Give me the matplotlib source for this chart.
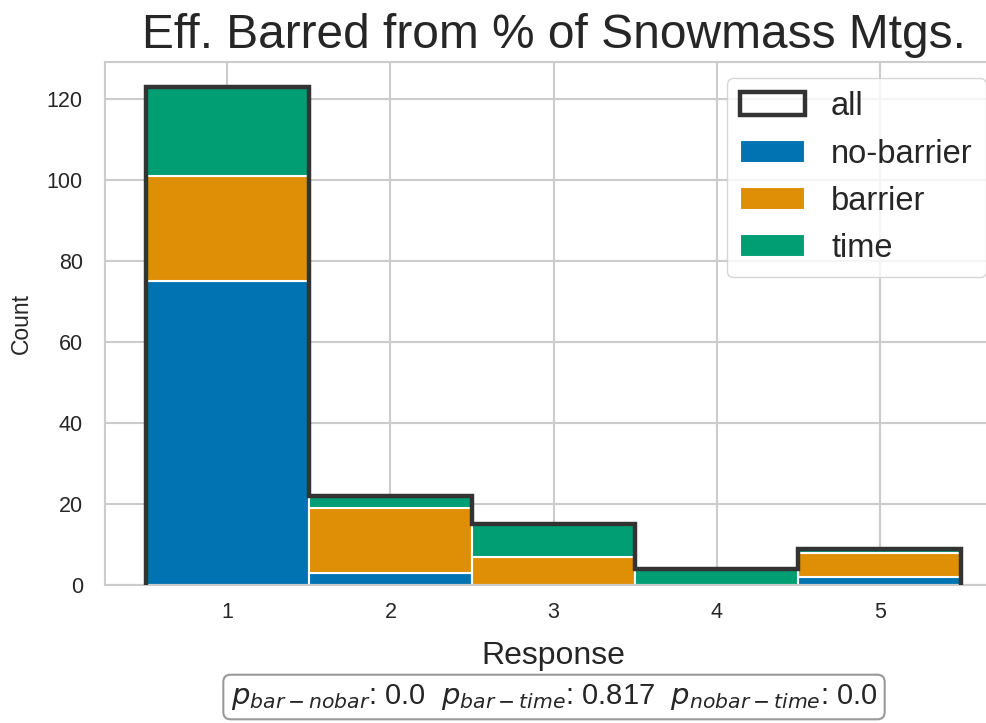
import matplotlib
matplotlib.use("Agg")
import matplotlib.pyplot as plt
from matplotlib.patches import Patch
import numpy as np
import seaborn as sns

# counts per response value
responses = [1, 2, 3, 4, 5]
no_barrier = [75, 3, 0, 0, 2]
barrier = [26, 16, 7, 0, 6]
time = [22, 3, 8, 4, 1]

series_names = ["no-barrier", "barrier", "time"]
p_text = r"$p_{bar-nobar}$: 0.0  $p_{bar-time}$: 0.817  $p_{nobar-time}$: 0.0"

sns.set_style("whitegrid")
plt.rcParams["font.family"] = ["Liberation Sans", "DejaVu Sans"]
plt.rcParams["axes.edgecolor"] = "#cccccc"
plt.rcParams["grid.color"] = "#cccccc"

colors = sns.color_palette("colorblind")[:3]
outline = "#333333"

fig = plt.figure(figsize=(9.87, 7.23), dpi=100)
ax = fig.add_axes([0.1064, 0.1909, 0.9088, 0.7234])

x = np.array(responses)
bottom = np.zeros(len(x))
bar_handles = []
for name, vals, c in zip(series_names, [no_barrier, barrier, time], colors):
    b = ax.bar(x, vals, width=1.0, bottom=bottom, color=c, edgecolor="white",
               linewidth=1.5, label=name, zorder=2)
    bar_handles.append(b)
    bottom += np.array(vals)

edges = np.concatenate([x - 0.5, [x[-1] + 0.5]])
ax.stairs(bottom, edges, baseline=0, fill=False, color=outline,
          linewidth=3.2, zorder=3)

ax.set_xlim(0.25, 5.75)
ax.set_ylim(0, bottom.max() * 1.05)
ax.set_xticks(responses)
ax.set_yticks(range(0, 121, 20))
ax.grid(True, linewidth=1.5)
ax.set_axisbelow(True)
for s in ax.spines.values():
    s.set_linewidth(1.5)

ax.tick_params(axis="both", labelsize=15.5, length=0, colors="#262626")
ax.tick_params(axis="x", pad=12)
ax.tick_params(axis="y", pad=16)
ax.set_xlabel("Response", fontsize=23, labelpad=13, color="#262626")
ax.set_ylabel("Count", fontsize=16.5, labelpad=10, color="#262626")
ax.set_title("Eff. Barred from % of Snowmass Mtgs.", fontsize=34.5, pad=10,
             color="#262626")

all_handle = Patch(facecolor="none", edgecolor=outline, linewidth=3.2)
leg = ax.legend([all_handle] + bar_handles, ["all"] + series_names,
                loc="upper right", fontsize=23.5, labelspacing=0.5,
                frameon=True, fancybox=True)
leg.get_frame().set_edgecolor("#cccccc")
for t in leg.get_texts():
    t.set_color("#262626")

fig.text(554 / 987, 1 - 697 / 723, p_text, fontsize=21, ha="center",
         va="center", color="#262626",
         bbox=dict(boxstyle="round,pad=0.25", facecolor="white",
                   edgecolor="#999999", linewidth=1.5))

fig.savefig("out.png", dpi=100)
